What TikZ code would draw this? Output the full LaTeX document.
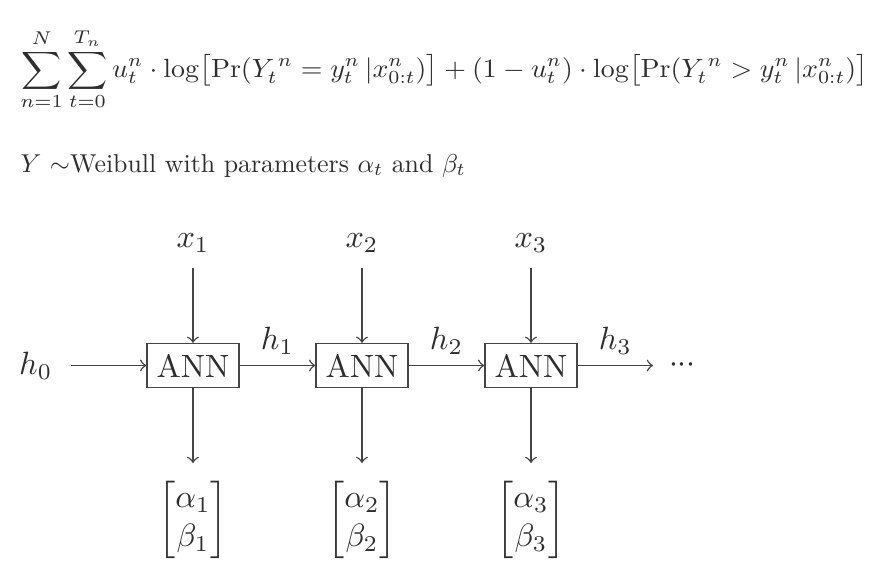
\documentclass[tikz,border=0pt]{standalone}
\usepackage{amsmath}
\usepackage{graphicx}
\definecolor{ink}{HTML}{2E2E2E}
\definecolor{wire}{HTML}{454545}
\begin{document}
\begin{tikzpicture}[x=0.31pt,y=-0.31pt,
  annbox/.style={draw=wire, line width=0.45pt, minimum width=28.5pt, minimum height=13.6pt, inner sep=0pt, text=ink},
  lbl/.style={text=ink},
  conn/.style={->, draw=wire, line width=0.45pt},
  xlab/.style={lbl, anchor=south, inner xsep=0pt, inner ysep=4.6pt},
  outmat/.style={lbl, anchor=north, inner xsep=0pt, inner ysep=5.3pt}]
\fill[white] (0,0) rectangle (881,572);
\useasboundingbox (0,0) rectangle (881,572);

% formula
\node[lbl, anchor=north west, inner sep=0pt] (formula) at (20,28)
  {\resizebox*{262.6pt}{25.4pt}{$\displaystyle \sum_{n=1}^{N}\sum_{t=0}^{T_n} u_t^n \cdot \log\bigl[\Pr(Y_t^{\,n} = y_t^n \,|x_{0:t}^n)\bigr] + (1-u_t^n)\cdot \log\bigl[\Pr(Y_t^{\,n} > y_t^n\,|x_{0:t}^n)\bigr]$}};

% Weibull line
\node[lbl, anchor=base west, inner sep=0pt] (weib) at (20,172)
  {\resizebox{138pt}{!}{$Y$ $\sim$Weibull with parameters $\alpha_t$ and $\beta_t$}};

% ANN boxes
\node[annbox] (ann1) at (193,365.5) {ANN};
\node[annbox] (ann2) at (362,365.5) {ANN};
\node[annbox] (ann3) at (531,365.5) {ANN};

% inputs
\node[xlab] (x1) at (193,268) {$x_1$};
\node[xlab] (x2) at (362,268) {$x_2$};
\node[xlab] (x3) at (531,268) {$x_3$};

% outputs
\node[outmat] (m1) at (193,463) {$\begin{bmatrix}\alpha_1\\ \beta_1\end{bmatrix}$};
\node[outmat] (m2) at (362,463) {$\begin{bmatrix}\alpha_2\\ \beta_2\end{bmatrix}$};
\node[outmat] (m3) at (531,463) {$\begin{bmatrix}\alpha_3\\ \beta_3\end{bmatrix}$};

% hidden states
\node[lbl, anchor=east, inner ysep=0pt, inner xsep=5.6pt] (h0) at (71,365.5) {$h_0$};
\coordinate (hend) at (653,365.5);
\node[lbl, inner sep=0pt] (dots) at (682.5,365.5) {${\cdotp}{\cdotp}{\cdotp}$};

\draw[conn] (x1) -- (ann1);
\draw[conn] (x2) -- (ann2);
\draw[conn] (x3) -- (ann3);
\draw[conn] (ann1) -- (m1);
\draw[conn] (ann2) -- (m2);
\draw[conn] (ann3) -- (m3);
\draw[conn] (h0) -- (ann1);
\draw[conn] (ann1) -- node[lbl, above] (h1) {$h_1$} (ann2);
\draw[conn] (ann2) -- node[lbl, above] (h2) {$h_2$} (ann3);
\draw[conn] (ann3) -- node[lbl, above] (h3) {$h_3$} (hend);
\end{tikzpicture}
\end{document}
